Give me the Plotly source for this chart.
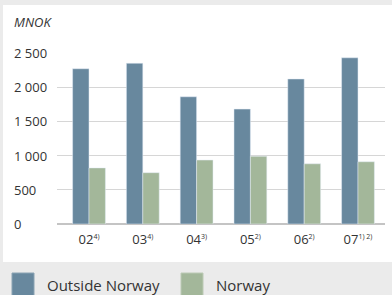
import plotly.graph_objects as go

categories = ["02", "03", "04", "05", "06", "07"]
footnotes = ["4)", "4)", "3)", "2)", "2)", "1) 2)"]
outside_norway = [2270, 2350, 1860, 1680, 2120, 2430]
norway = [820, 750, 935, 990, 880, 910]
y_ticks = [0, 500, 1000, 1500, 2000, 2500]
y_tick_labels = ["0", "500", "1 000", "1 500", "2 000", "2 500"]

C_OUT = "#68889e"
C_NOR = "#a3b79a"
GRAY = "#ebebeb"
TXT = "#333333"
FONT = "Open Sans"

W, H = 392, 295
L, R, T, B = 57, 7, 53, 71
pw, ph = W - L - R, H - T - B

def px(x):
    return (x - L) / pw

def py(y):
    return (H - B - y) / ph

tick_text = [f"{c}<sup><span style='font-size:7px'>{f}</span></sup>" for c, f in zip(categories, footnotes)]

fig = go.Figure()
fig.add_trace(go.Bar(x=categories, y=outside_norway, marker_color=C_OUT, name="Outside Norway", showlegend=False))
fig.add_trace(go.Bar(x=categories, y=norway, marker_color=C_NOR, name="Norway", showlegend=False))

shapes = [
    dict(type="rect", xref="paper", yref="paper", x0=px(-5), x1=px(W + 5), y0=py(5), y1=py(-5), fillcolor=GRAY, line_width=0, layer="below"),
    dict(type="rect", xref="paper", yref="paper", x0=px(-5), x1=px(3), y0=py(H + 5), y1=py(-5), fillcolor=GRAY, line_width=0, layer="below"),
    dict(type="rect", xref="paper", yref="paper", x0=px(-5), x1=px(W + 5), y0=py(H + 5), y1=py(262), fillcolor=GRAY, line_width=0, layer="below"),
    dict(type="rect", xref="paper", yref="paper", x0=px(12), x1=px(34), y0=py(300), y1=py(273), fillcolor=C_OUT, line=dict(color="#8aa3b3", width=1)),
    dict(type="rect", xref="paper", yref="paper", x0=px(181), x1=px(203), y0=py(300), y1=py(273), fillcolor=C_NOR, line=dict(color="#bccab5", width=1)),
]

annotations = [
    dict(text="MNOK", xref="paper", yref="paper", x=px(12), y=py(22), xanchor="left", yanchor="middle",
         showarrow=False, font=dict(family=FONT, size=13, color=TXT, style="italic")),
    dict(text="Outside Norway", xref="paper", yref="paper", x=px(45), y=py(285), xanchor="left", yanchor="middle",
         showarrow=False, font=dict(family=FONT, size=15, color=TXT)),
    dict(text="Norway", xref="paper", yref="paper", x=px(214), y=py(285), xanchor="left", yanchor="middle",
         showarrow=False, font=dict(family=FONT, size=15, color=TXT)),
]
for v, lab in zip(y_ticks, y_tick_labels):
    annotations.append(dict(text=lab, xref="paper", yref="y", x=px(12), y=v, xanchor="left", yanchor="middle",
                            showarrow=False, font=dict(family=FONT, size=13, color=TXT)))

fig.update_layout(
    width=W, height=H,
    margin=dict(l=L, r=R, t=T, b=B),
    paper_bgcolor="white", plot_bgcolor="white",
    barmode="group", bargap=0.39, bargroupgap=0,
    shapes=shapes, annotations=annotations,
    font=dict(family=FONT, size=13, color=TXT),
    xaxis=dict(showgrid=False, showline=False, ticks="", tickfont=dict(family=FONT, size=13, color=TXT),
               tickvals=categories, ticktext=tick_text, range=[-0.595, 5.502], ticklabelstandoff=6,
               fixedrange=True, automargin=False),
    yaxis=dict(range=[0, 2500], tickvals=y_ticks, showticklabels=False, showgrid=True, gridcolor="#d6d6d6", gridwidth=1,
               zeroline=True, zerolinecolor="#c4c4c4", zerolinewidth=2, fixedrange=True, automargin=False),
)

fig.write_html("out.html", config={"displayModeBar": False},
               post_script="document.body.style.margin='0';document.body.style.padding='0';")
